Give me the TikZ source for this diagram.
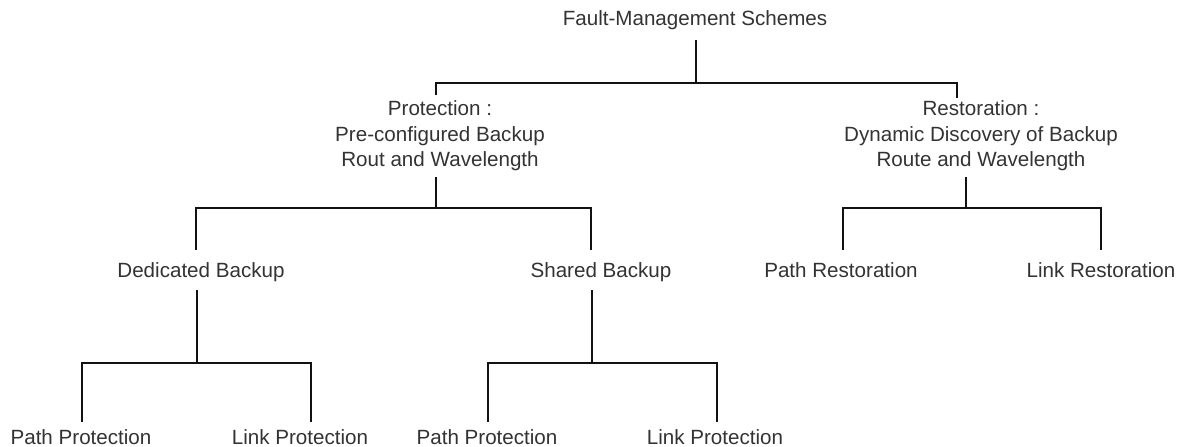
\documentclass[tikz,border=0pt]{standalone}
\usepackage{fontspec}
\setmainfont{Liberation Sans}
\definecolor{ink}{gray}{0.2}
\definecolor{wirecol}{gray}{0.07}
\newcommand{\stack}[1]{\begin{tabular}[t]{@{}c@{}}#1\end{tabular}}
\begin{document}
\begin{tikzpicture}[x=1pt,y=-1pt,
  lbl/.style={font=\fontsize{20.6}{25.5}\selectfont, text=ink, inner sep=0pt, anchor=base},
  wire/.style={line width=2.8pt, draw=wirecol, line join=miter}]
\useasboundingbox (0,0) rectangle (1186,447);

% labels of the tree
\node[lbl] (root) at (695,25.5) {Fault-Management Schemes};
\node[lbl] (prot) at (440,115.5) {\stack{Protection :\\Pre-configured Backup\\Rout and Wavelength}};
\node[lbl] (rest) at (981,115.5) {\stack{Restoration :\\Dynamic Discovery of Backup\\Route and Wavelength}};
\node[lbl] (ded)  at (201,277.5) {Dedicated Backup};
\node[lbl] (shr)  at (601,277.5) {Shared Backup};
\node[lbl] (pres) at (841,277.5) {Path Restoration};
\node[lbl] (lres) at (1101,277.5) {Link Restoration};
\node[lbl] (dpp)  at (81,444.5)  {Path Protection};
\node[lbl] (dlp)  at (300,444.5) {Link Protection};
\node[lbl] (spp)  at (487,444.5) {Path Protection};
\node[lbl] (slp)  at (715,444.5) {Link Protection};

% end points of the branch lines
\coordinate (root-out) at (696,40);
\coordinate (bus0)     at (696,83);
\coordinate (prot-in)  at (436,95);
\coordinate (rest-in)  at (957,98);

\coordinate (prot-out) at (436,177);
\coordinate (bus1)     at (436,208);
\coordinate (ded-in)   at (196,250);
\coordinate (shr-in)   at (591,250);

\coordinate (rest-out) at (966,177);
\coordinate (bus2)     at (966,208);
\coordinate (pres-in)  at (843,250);
\coordinate (lres-in)  at (1101,250);

\coordinate (ded-out)  at (197,290);
\coordinate (bus3)     at (197,363);
\coordinate (dpp-in)   at (82,422);
\coordinate (dlp-in)   at (311,422);

\coordinate (shr-out)  at (592,290);
\coordinate (bus4)     at (592,363);
\coordinate (spp-in)   at (488,422);
\coordinate (slp-in)   at (717,422);

% root -> protection / restoration
\draw[wire] (root-out) -- (bus0);
\draw[wire] (prot-in) -- (prot-in |- bus0) -- (rest-in |- bus0) -- (rest-in);

% protection -> dedicated / shared
\draw[wire] (prot-out) -- (bus1);
\draw[wire] (ded-in) -- (ded-in |- bus1) -- (shr-in |- bus1) -- (shr-in);

% restoration -> path / link
\draw[wire] (rest-out) -- (bus2);
\draw[wire] (pres-in) -- (pres-in |- bus2) -- (lres-in |- bus2) -- (lres-in);

% dedicated backup -> path / link protection
\draw[wire] (ded-out) -- (bus3);
\draw[wire] (dpp-in) -- (dpp-in |- bus3) -- (dlp-in |- bus3) -- (dlp-in);

% shared backup -> path / link protection
\draw[wire] (shr-out) -- (bus4);
\draw[wire] (spp-in) -- (spp-in |- bus4) -- (slp-in |- bus4) -- (slp-in);
\end{tikzpicture}
\end{document}
